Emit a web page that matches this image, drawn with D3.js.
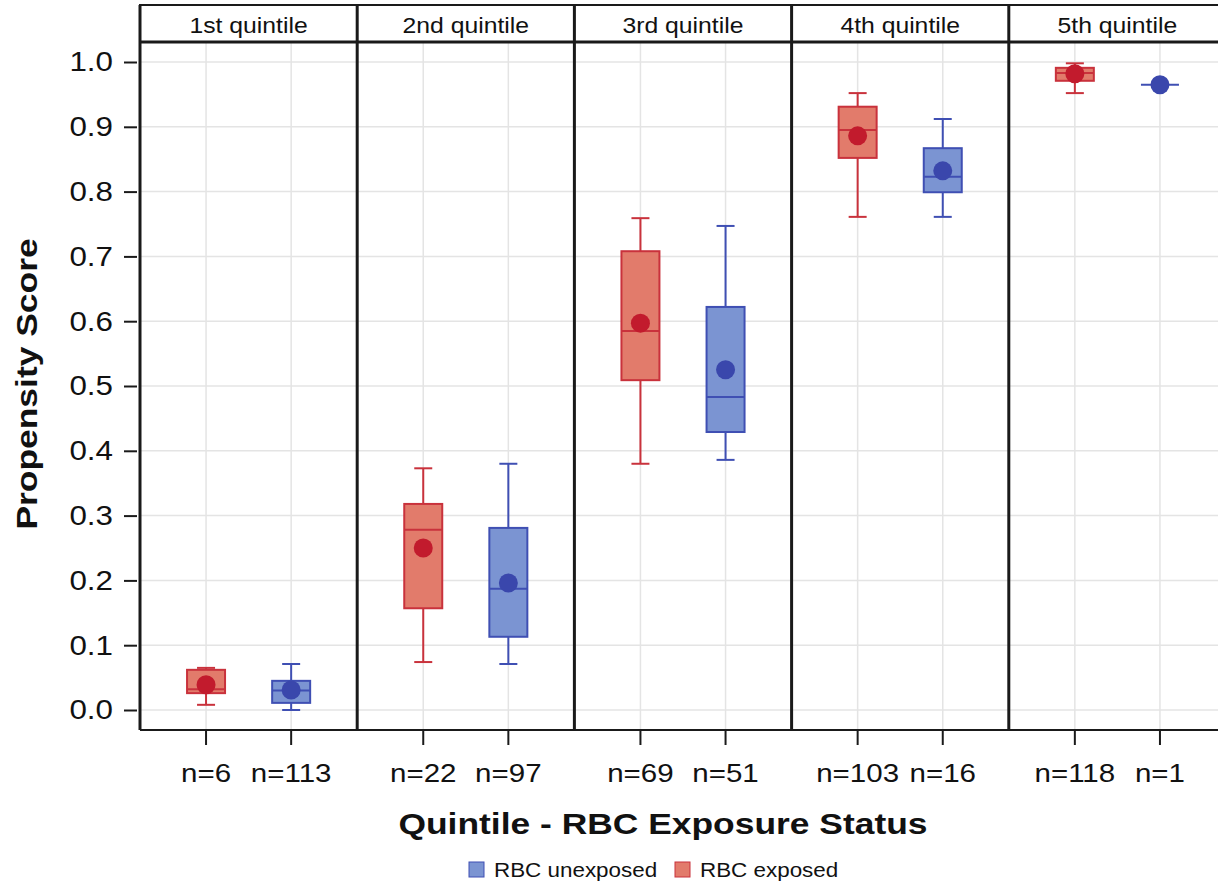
<!DOCTYPE html>
<html>
<head>
<meta charset="utf-8">
<script src="https://cdn.jsdelivr.net/npm/d3@7"></script>
<style>
  body { margin: 0; background: #fff; }
  text { font-family: "Liberation Sans", Arial, sans-serif; fill: #111; }
</style>
</head>
<body>
<div id="chart"></div>
<script>
const width = 1218;
const height = 886;

const quintiles = ["1st quintile", "2nd quintile", "3rd quintile", "4th quintile", "5th quintile"];
const groups = ["exposed", "unexposed"];
const yTicks = [0, 0.1, 0.2, 0.3, 0.4, 0.5, 0.6, 0.7, 0.8, 0.9, 1.0];

// RBC exposed
const nExposed = [6, 22, 69, 103, 118];
const minExposed = [0.008, 0.074, 0.380, 0.761, 0.952];
const q1Exposed = [0.026, 0.157, 0.509, 0.852, 0.971];
const medExposed = [0.032, 0.278, 0.585, 0.895, 0.983];
const q3Exposed = [0.062, 0.318, 0.708, 0.931, 0.991];
const maxExposed = [0.065, 0.373, 0.759, 0.952, 0.998];
const meanExposed = [0.039, 0.250, 0.597, 0.886, 0.982];

// RBC unexposed
const nUnexposed = [113, 97, 51, 16, 1];
const minUnexposed = [0.000, 0.071, 0.386, 0.761, 0.965];
const q1Unexposed = [0.011, 0.113, 0.429, 0.799, 0.965];
const medUnexposed = [0.030, 0.187, 0.483, 0.823, 0.965];
const q3Unexposed = [0.045, 0.281, 0.622, 0.867, 0.965];
const maxUnexposed = [0.071, 0.380, 0.747, 0.912, 0.965];
const meanUnexposed = [0.031, 0.196, 0.525, 0.832, 0.965];

const style = {
    exposed: { fill: "#e27b6b", stroke: "#c9323c", mean: "#c21b2d" },
    unexposed: { fill: "#7b94d2", stroke: "#3f4fb3", mean: "#3a47ac" }
};

// build one row per box
const boxes = [];
quintiles.forEach((q, i) => {
    boxes.push({ q, g: "exposed", n: nExposed[i], min: minExposed[i], q1: q1Exposed[i],
        med: medExposed[i], q3: q3Exposed[i], max: maxExposed[i], mean: meanExposed[i] });
    boxes.push({ q, g: "unexposed", n: nUnexposed[i], min: minUnexposed[i], q1: q1Unexposed[i],
        med: medUnexposed[i], q3: q3Unexposed[i], max: maxUnexposed[i], mean: meanUnexposed[i] });
});

// the original lettering is a bit wider than Liberation Sans
function stretch(sel, k) {
    sel.each(function() {
        const len = this.getComputedTextLength();
        d3.select(this).attr("textLength", len * k).attr("lengthAdjust", "spacingAndGlyphs");
    });
}

const plotLeft = 140, plotRight = 1226, headerTop = 5, headerBottom = 42, plotBottom = 730;

const svg = d3.select("#chart").append("svg")
    .attr("width", width)
    .attr("height", height);

const x = d3.scaleBand().domain(quintiles).range([plotLeft, plotRight]);
const xIn = d3.scalePoint().domain(groups).range([0, x.bandwidth()]).padding(0.776);
const y = d3.scaleLinear().domain([0, 1]).range([710, 62]);

const cx = d => x(d.q) + xIn(d.g);

// horizontal grid
svg.append("g").selectAll("line")
    .data(yTicks).enter().append("line")
    .attr("x1", plotLeft).attr("x2", plotRight)
    .attr("y1", d => y(d)).attr("y2", d => y(d))
    .attr("stroke", "#e4e4e4").attr("stroke-width", 1.5);

// vertical grid at each group position
svg.append("g").selectAll("line")
    .data(boxes).enter().append("line")
    .attr("x1", cx).attr("x2", cx)
    .attr("y1", headerBottom).attr("y2", plotBottom)
    .attr("stroke", "#e4e4e4").attr("stroke-width", 1.5);

// boxes
const boxW = 38, capW = 18;
const bg = svg.append("g").selectAll("g")
    .data(boxes).enter().append("g");

bg.append("line")
    .attr("x1", cx).attr("x2", cx)
    .attr("y1", d => y(d.max)).attr("y2", d => y(d.min))
    .attr("stroke", d => style[d.g].stroke).attr("stroke-width", 2);
bg.append("line")
    .attr("x1", d => cx(d) - capW / 2).attr("x2", d => cx(d) + capW / 2)
    .attr("y1", d => y(d.max)).attr("y2", d => y(d.max))
    .attr("stroke", d => style[d.g].stroke).attr("stroke-width", 2);
bg.append("line")
    .attr("x1", d => cx(d) - capW / 2).attr("x2", d => cx(d) + capW / 2)
    .attr("y1", d => y(d.min)).attr("y2", d => y(d.min))
    .attr("stroke", d => style[d.g].stroke).attr("stroke-width", 2);
bg.append("rect")
    .attr("x", d => cx(d) - boxW / 2)
    .attr("y", d => y(d.q3))
    .attr("width", boxW)
    .attr("height", d => Math.max(0, y(d.q1) - y(d.q3)))
    .attr("fill", d => style[d.g].fill)
    .attr("stroke", d => style[d.g].stroke).attr("stroke-width", 2);
bg.append("line")
    .attr("x1", d => cx(d) - boxW / 2).attr("x2", d => cx(d) + boxW / 2)
    .attr("y1", d => y(d.med)).attr("y2", d => y(d.med))
    .attr("stroke", d => style[d.g].stroke).attr("stroke-width", 2);
bg.append("circle")
    .attr("cx", cx).attr("cy", d => y(d.mean))
    .attr("r", 9.5)
    .attr("fill", d => style[d.g].mean);

// panel header strip
svg.append("rect")
    .attr("x", plotLeft).attr("y", headerTop)
    .attr("width", plotRight - plotLeft).attr("height", headerBottom - headerTop)
    .attr("fill", "#fff").attr("stroke", "#1a1a1a").attr("stroke-width", 2);
svg.append("line")
    .attr("x1", plotLeft).attr("x2", plotRight)
    .attr("y1", headerBottom).attr("y2", headerBottom)
    .attr("stroke", "#1a1a1a").attr("stroke-width", 3);
svg.append("g").selectAll("text")
    .data(quintiles).enter().append("text")
    .attr("x", d => x(d) + x.bandwidth() / 2)
    .attr("y", 33)
    .attr("text-anchor", "middle")
    .attr("font-size", 21.5)
    .text(d => d)
    .call(stretch, 1.15);

// panel borders
svg.append("g").selectAll("line")
    .data(quintiles).enter().append("line")
    .attr("x1", d => x(d)).attr("x2", d => x(d))
    .attr("y1", headerTop).attr("y2", plotBottom)
    .attr("stroke", "#1a1a1a").attr("stroke-width", 3);
svg.append("line")
    .attr("x1", plotLeft).attr("x2", plotRight)
    .attr("y1", plotBottom).attr("y2", plotBottom)
    .attr("stroke", "#1a1a1a").attr("stroke-width", 2);

// y axis
const yAxis = d3.axisLeft(y).tickValues(yTicks).tickFormat(d3.format(".1f")).tickSize(13).tickPadding(11);
const ya = svg.append("g").attr("transform", `translate(${plotLeft - 3},0)`).call(yAxis);
ya.select(".domain").remove();
ya.selectAll(".tick line").attr("stroke", "#1a1a1a").attr("stroke-width", 2);
ya.selectAll(".tick text").attr("font-size", 27.5).attr("fill", "#111")
    .style("font-family", '"Liberation Sans", Arial, sans-serif')
    .call(stretch, 1.14);

// x ticks and n labels
svg.append("g").selectAll("line")
    .data(boxes).enter().append("line")
    .attr("x1", cx).attr("x2", cx)
    .attr("y1", plotBottom).attr("y2", plotBottom + 15)
    .attr("stroke", "#1a1a1a").attr("stroke-width", 2);
svg.append("g").selectAll("text")
    .data(boxes).enter().append("text")
    .attr("x", cx).attr("y", 782)
    .attr("text-anchor", "middle")
    .attr("font-size", 25)
    .text(d => "n=" + d.n)
    .call(stretch, 1.18);

// axis titles
svg.append("text")
    .attr("x", 663).attr("y", 834)
    .attr("text-anchor", "middle")
    .attr("font-size", 30).attr("font-weight", "bold")
    .text("Quintile - RBC Exposure Status")
    .call(stretch, 1.18);
svg.append("text")
    .attr("transform", "translate(37,384) rotate(-90)")
    .attr("text-anchor", "middle")
    .attr("font-size", 30).attr("font-weight", "bold")
    .text("Propensity Score")
    .call(stretch, 1.18);

// legend
const legend = [
    { g: "unexposed", label: "RBC unexposed", x: 469 },
    { g: "exposed", label: "RBC exposed", x: 675 }
];
const lg = svg.append("g").selectAll("g")
    .data(legend).enter().append("g")
    .attr("transform", d => `translate(${d.x},862)`);
lg.append("rect")
    .attr("width", 15).attr("height", 15)
    .attr("fill", d => style[d.g].fill)
    .attr("stroke", d => style[d.g].stroke).attr("stroke-width", 1);
lg.append("text")
    .attr("x", 25).attr("y", 15)
    .attr("font-size", 20)
    .text(d => d.label)
    .call(stretch, 1.12);
</script>
</body>
</html>
